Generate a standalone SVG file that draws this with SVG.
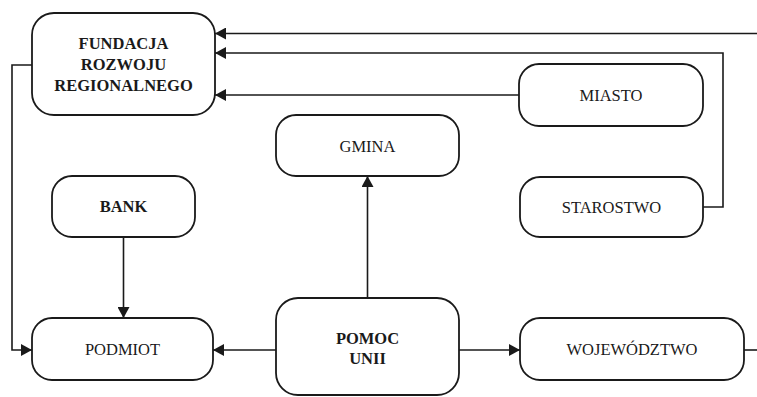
<svg xmlns="http://www.w3.org/2000/svg" width="757" height="397" viewBox="0 0 757 397">
<style>
.box{fill:#fff;stroke:#1a1a1a;stroke-width:1.8}
.c{fill:none;stroke:#1a1a1a;stroke-width:1.6}
</style>
<defs>
<marker id="ah" markerUnits="userSpaceOnUse" markerWidth="11" markerHeight="12" refX="11" refY="6" orient="auto">
<path d="M0,0 L11,6 L0,12 z" fill="#1a1a1a"/>
</marker>
</defs>
<rect width="757" height="397" fill="#fff"/>
<g id="connectors">
<path class="c" d="M757,33.5 L215,33.5" marker-end="url(#ah)"/>
<path class="c" d="M703,207 L723,207 L723,53 L215,53" marker-end="url(#ah)"/>
<path class="c" d="M519,95 L215,95" marker-end="url(#ah)"/>
<path class="c" d="M32,65 L12,65 L12,350 L32,350" marker-end="url(#ah)"/>
<path class="c" d="M123.5,237 L123.5,318" marker-end="url(#ah)"/>
<path class="c" d="M276,350 L213,350" marker-end="url(#ah)"/>
<path class="c" d="M367.5,298 L367.5,176" marker-end="url(#ah)"/>
<path class="c" d="M459,350 L520,350" marker-end="url(#ah)"/>
<path class="c" d="M744,350 L757,350"/>
</g>
<g font-family="Liberation Serif, Times New Roman, serif" font-size="16.5" fill="#1a1a1a" text-anchor="middle">
<g id="fundacja">
<rect class="box" x="32" y="13" width="183" height="102" rx="22"/>
<text font-weight="bold" x="123.5" y="48.5">FUNDACJA</text>
<text font-weight="bold" x="123.5" y="69.5">ROZWOJU</text>
<text font-weight="bold" x="123.5" y="90.5">REGIONALNEGO</text>
</g>
<g id="miasto">
<rect class="box" x="519" y="64" width="184" height="62" rx="20"/>
<text x="611" y="100.5">MIASTO</text>
</g>
<g id="gmina">
<rect class="box" x="276" y="115" width="183" height="61" rx="20"/>
<text x="367.5" y="152">GMINA</text>
</g>
<g id="bank">
<rect class="box" x="52" y="176" width="143" height="61" rx="20"/>
<text font-weight="bold" x="123.5" y="212">BANK</text>
</g>
<g id="starostwo">
<rect class="box" x="520" y="177" width="183" height="60" rx="20"/>
<text x="611.5" y="212.5">STAROSTWO</text>
</g>
<g id="podmiot">
<rect class="box" x="32" y="318" width="181" height="62" rx="20"/>
<text x="122.5" y="355">PODMIOT</text>
</g>
<g id="pomoc">
<rect class="box" x="276" y="298" width="183" height="97" rx="22"/>
<text font-weight="bold" x="367.5" y="344">POMOC</text>
<text font-weight="bold" x="367.5" y="364">UNII</text>
</g>
<g id="wojewodztwo">
<rect class="box" x="520" y="318" width="224" height="62" rx="20"/>
<text x="632" y="354.5">WOJEWÓDZTWO</text>
</g>
</g>
</svg>
